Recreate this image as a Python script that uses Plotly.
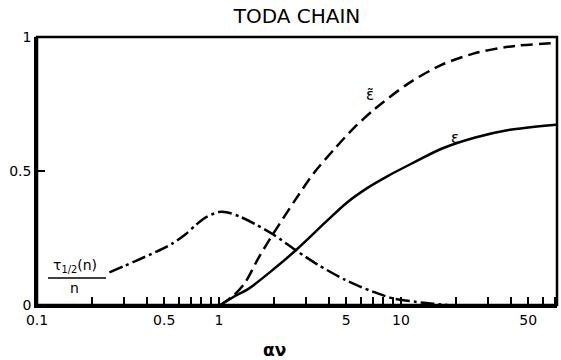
import math
import plotly.graph_objects as go

# ---- data ----
tau_x = [0.25, 0.30, 0.35, 0.45, 0.55, 0.65, 0.75, 0.85, 1.0, 1.1, 1.3, 1.6, 2.0, 2.7, 3.5, 4.9, 6.0, 7.0, 9.0, 12.0, 15.0, 18.0]
tau_y = [0.122, 0.145, 0.165, 0.198, 0.228, 0.262, 0.300, 0.328, 0.347, 0.346, 0.330, 0.300, 0.262, 0.200, 0.150, 0.095, 0.068, 0.050, 0.025, 0.012, 0.005, 0.0]

eps_t_x = [1.02, 1.2, 1.39, 1.65, 2.0, 2.63, 3.3, 4.28, 5.5, 7.13, 11.0, 16.7, 25.0, 39.0, 71.0]
eps_t_y = [0.0, 0.035, 0.083, 0.176, 0.269, 0.393, 0.49, 0.58, 0.66, 0.73, 0.827, 0.896, 0.938, 0.964, 0.978]

eps_x = [1.02, 1.2, 1.45, 2.0, 2.69, 3.85, 5.0, 6.55, 8.5, 11.4, 16.7, 25.6, 39.0, 71.0]
eps_y = [0.0, 0.03, 0.06, 0.134, 0.209, 0.309, 0.38, 0.437, 0.482, 0.527, 0.583, 0.625, 0.653, 0.673]

x_ticks_all = [0.1, 0.2, 0.3, 0.4, 0.5, 0.6, 0.7, 0.8, 0.9, 1, 2, 3, 4, 5, 6, 7, 8, 9, 10, 20, 30, 40, 50, 60, 70]
x_labels = {0.1: "0.1", 0.5: "0.5", 1: "1", 5: "5", 10: "10", 50: "50"}
y_ticks = [0, 0.5, 1]
y_labels = ["0", "0.5", "1"]

FONT = "DejaVu Sans"
x_range = [math.log10(0.1), math.log10(72)]

fig = go.Figure()
fig.add_trace(go.Scatter(x=tau_x, y=tau_y, mode="lines",
                         line=dict(color="black", width=2.5, dash="14px,4px,3px,4px", shape="spline", smoothing=0.8),
                         showlegend=False))
fig.add_trace(go.Scatter(x=eps_t_x, y=eps_t_y, mode="lines",
                         line=dict(color="black", width=2.5, dash="12px,6px", shape="spline", smoothing=0.8),
                         showlegend=False))
fig.add_trace(go.Scatter(x=eps_x, y=eps_y, mode="lines",
                         line=dict(color="black", width=2.5, shape="spline", smoothing=0.8),
                         showlegend=False))

tick_common = dict(showgrid=False, zeroline=False, ticks="inside", tickwidth=2, tickcolor="black")

fig.update_layout(
    template="none",
    width=561, height=360,
    margin=dict(l=37, r=4, t=37, b=55, autoexpand=False),
    paper_bgcolor="white", plot_bgcolor="white",
    font=dict(family=FONT, size=14, color="black"),
    title=dict(text="TODA CHAIN", x=0.5, xanchor="center", xref="paper", y=0.955, yanchor="middle", yref="container",
               font=dict(family=FONT, size=20, color="black")),
    xaxis=dict(type="log", range=x_range, automargin=False,
               showline=True, linewidth=2.5, linecolor="black", ticklen=8,
               tickmode="array", tickvals=x_ticks_all,
               ticktext=[x_labels.get(v, "") for v in x_ticks_all],
               tickfont=dict(family=FONT, size=14), **tick_common),
    yaxis=dict(range=[0, 1], automargin=False,
               showline=True, linewidth=2.5, linecolor="black", ticklen=8,
               tickmode="array", tickvals=y_ticks, ticktext=y_labels,
               tickfont=dict(family=FONT, size=14), **tick_common),
)

# plot frame (top and right sides)
fig.add_shape(type="rect", xref="paper", yref="paper", x0=0, x1=1, y0=0, y1=1,
              line=dict(color="black", width=2.5), fillcolor="rgba(0,0,0,0)", layer="above")

fig.add_annotation(text="<b>αν</b>", xref="paper", yref="paper", x=0.456, y=-0.168,
                   showarrow=False, font=dict(family=FONT, size=17), xanchor="center", yanchor="middle")
fig.add_annotation(text="ε̃", xref="paper", yref="paper", x=(370 - 37) / 520, y=(305 - 95) / 268,
                   showarrow=False, font=dict(family=FONT, size=15), xanchor="center", yanchor="middle")
fig.add_annotation(text="ε", xref="paper", yref="paper", x=(455 - 37) / 520, y=(305 - 138) / 268,
                   showarrow=False, font=dict(family=FONT, size=15), xanchor="center", yanchor="middle")
fig.add_annotation(text="τ<sub>1/2</sub>(n)", xref="paper", yref="paper", x=(75 - 37) / 520, y=(305 - 266) / 268,
                   showarrow=False, font=dict(family=FONT, size=14), xanchor="center", yanchor="middle")
fig.add_annotation(text="n", xref="paper", yref="paper", x=(74 - 37) / 520, y=(305 - 288) / 268,
                   showarrow=False, font=dict(family=FONT, size=14), xanchor="center", yanchor="middle")
fig.add_shape(type="line", xref="paper", yref="paper", x0=(48 - 37) / 520, x1=(106 - 37) / 520,
              y0=(305 - 278) / 268, y1=(305 - 278) / 268, line=dict(color="black", width=1.5))

fig.write_html("out.html", config={"displayModeBar": False},
               post_script="document.body.style.margin='0px';")
